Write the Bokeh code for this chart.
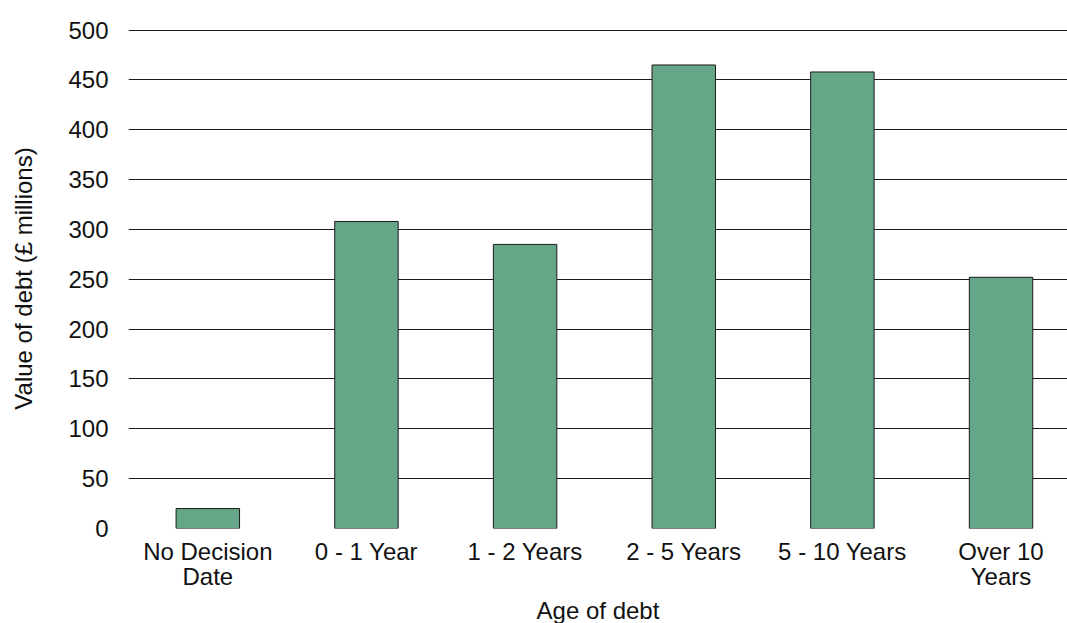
from bokeh.plotting import figure
from bokeh.models import Range1d, FixedTicker, ColumnDataSource
from bokeh.embed import file_html
from bokeh.resources import INLINE

categories = ["No Decision\nDate", "0 - 1 Year", "1 - 2 Years", "2 - 5 Years", "5 - 10 Years", "Over 10\nYears"]
values = [20, 308, 285, 465, 458, 252]
y_ticks = [0, 50, 100, 150, 200, 250, 300, 350, 400, 450, 500]

FONT = "Liberation Sans"
FS = "24px"

xs = list(range(len(categories)))
src = ColumnDataSource(data=dict(x=xs, top=values, label=categories))

p = figure(frame_width=939, frame_height=500, output_backend="svg", toolbar_location=None,
           x_range=Range1d(-0.5, 5.419), y_range=Range1d(0, 501.6),
           min_border_left=128, min_border_right=0, min_border_top=28, min_border_bottom=0)

p.vbar(x="x", top="top", width=0.4, bottom=0, source=src,
       fill_color="#66A688", line_color="#1a1a1a", line_width=1)

p.outline_line_color = None
p.xgrid.grid_line_color = None
p.ygrid.grid_line_color = "#1a1a1a"
p.ygrid.grid_line_width = 1
p.ygrid.ticker = FixedTicker(ticks=y_ticks)

p.yaxis.ticker = FixedTicker(ticks=y_ticks)
p.xaxis.ticker = FixedTicker(ticks=xs)
p.xaxis.major_label_overrides = {i: c for i, c in zip(xs, categories)}

for ax in (p.xaxis[0], p.yaxis[0]):
    ax.axis_line_color = None
    ax.major_tick_line_color = None
    ax.minor_tick_line_color = None
    ax.major_label_text_font = FONT
    ax.major_label_text_font_size = FS
    ax.major_label_text_color = "#111111"
    ax.axis_label_text_font = FONT
    ax.axis_label_text_font_size = FS
    ax.axis_label_text_font_style = "normal"
    ax.axis_label_text_color = "#111111"

p.xaxis.major_label_text_line_height = 0.94
p.yaxis.axis_label = "Value of debt (£ millions)"
p.xaxis.axis_label = "Age of debt"
p.yaxis.major_label_standoff = 14
p.yaxis.axis_label_standoff = 28
p.xaxis.major_label_standoff = 3
p.xaxis.axis_label_standoff = 4

open("out.html", "w").write(file_html(p, INLINE))
